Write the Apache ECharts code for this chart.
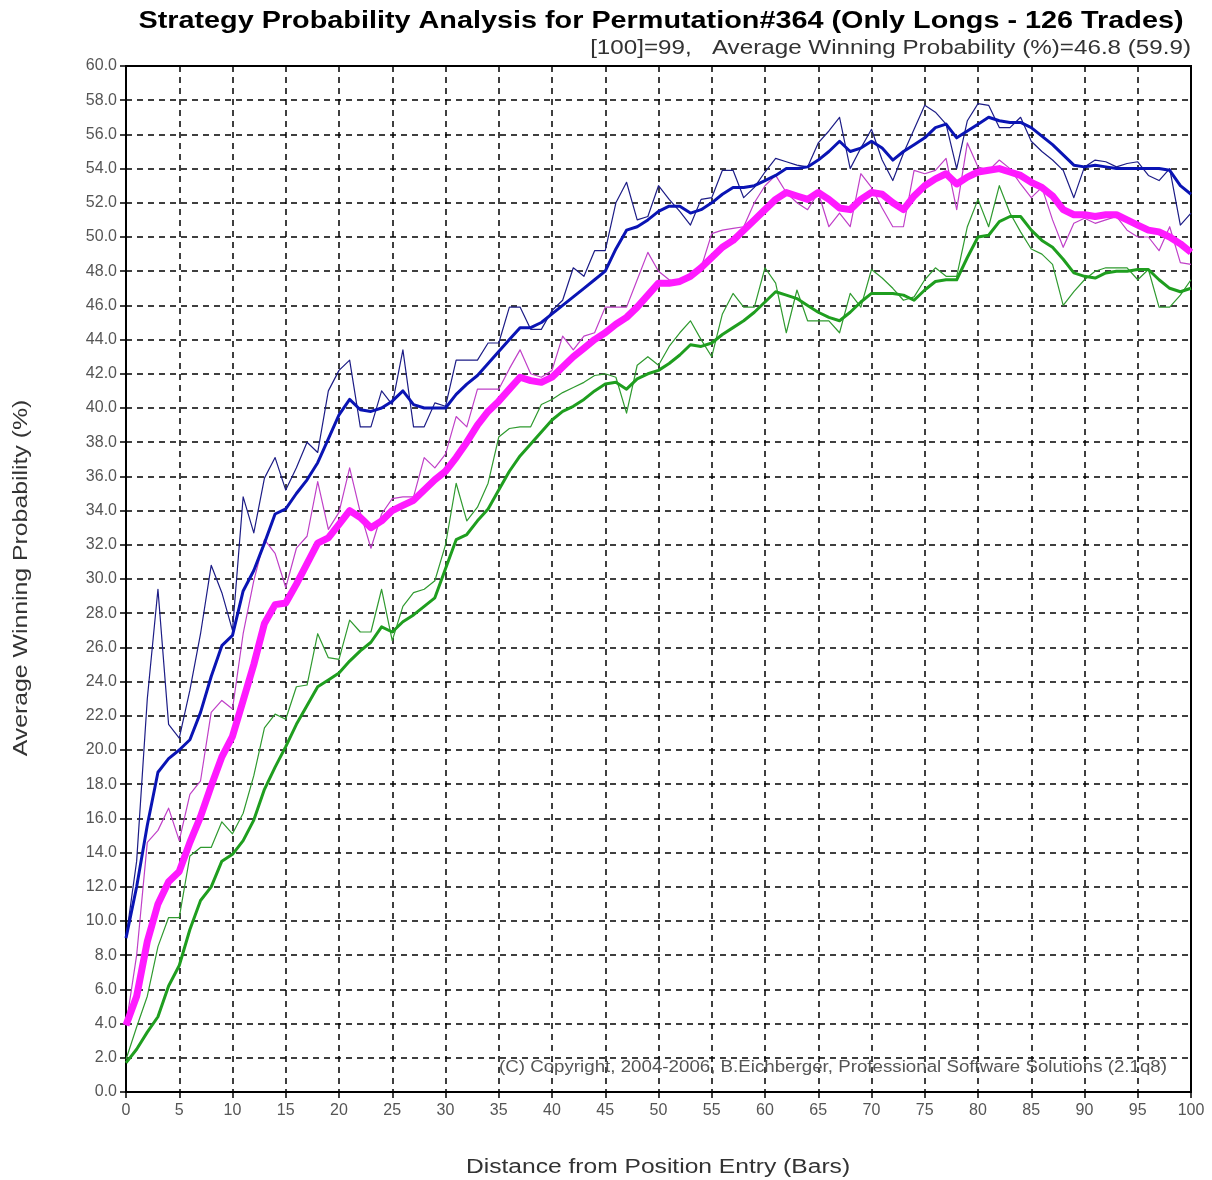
<!DOCTYPE html>
<html>
<head>
<meta charset="utf-8">
<title>Strategy Probability Analysis</title>
<script src="https://cdn.jsdelivr.net/npm/echarts@6/dist/echarts.min.js"></script>
<style>
  html, body { margin: 0; padding: 0; background: #fff; }
  #chart { width: 1212px; height: 1180px; }
</style>
</head>
<body>
<div id="chart"></div>
<script>
// distance from entry, 0..100 bars
const bars = Array.from({ length: 101 }, (_, i) => i);

// upper band (blue)
const blueThin = [
  9.0, 13.5, 23.0, 29.4, 21.5, 20.7, 23.5, 26.8, 30.8, 29.2,
  27.0, 34.8, 32.7, 35.9, 37.1, 35.2, 36.5, 38.0, 37.4, 41.0,
  42.2, 42.8, 38.9, 38.9, 41.0, 40.2, 43.4, 38.9, 38.9, 40.3,
  40.1, 42.8, 42.8, 42.8, 43.8, 43.8, 45.9, 45.9, 44.6, 44.6,
  45.7, 46.3, 48.2, 47.7, 49.2, 49.2, 52.0, 53.2, 51.0, 51.2,
  53.0, 52.2, 51.5, 50.7, 52.2, 52.3, 53.9, 53.9, 52.3, 52.9,
  53.8, 54.6, 54.4, 54.2, 54.1, 55.5, 56.2, 57.0, 54.0, 55.2,
  56.3, 54.5, 53.3, 54.9, 56.3, 57.7, 57.3, 56.6, 54.0, 56.8,
  57.8, 57.7, 56.4, 56.4, 57.0, 55.6, 55.0, 54.5, 53.9, 52.3,
  54.1, 54.5, 54.4, 54.1, 54.3, 54.4, 53.6, 53.3, 54.0, 50.7,
  51.4
];
const blueThick = [
  9.0, 12.0, 15.6, 18.7, 19.5, 20.0, 20.6, 22.2, 24.3, 26.1,
  26.7, 29.3, 30.5, 32.1, 33.8, 34.1, 35.0, 35.8, 36.8, 38.2,
  39.6, 40.5, 39.9, 39.8, 40.0, 40.4, 41.0, 40.2, 40.0, 40.0,
  40.0, 40.8, 41.4, 41.9, 42.6, 43.3, 44.0, 44.7, 44.7, 45.0,
  45.5, 46.0, 46.5, 47.0, 47.5, 48.0, 49.3, 50.4, 50.6, 51.0,
  51.5, 51.8, 51.8, 51.4, 51.6, 52.0, 52.5, 52.9, 52.9, 53.0,
  53.3, 53.6, 54.0, 54.0, 54.1, 54.5, 55.0, 55.6, 55.0, 55.2,
  55.6, 55.2, 54.5, 55.0, 55.4, 55.8, 56.4, 56.6, 55.8, 56.2,
  56.6, 57.0, 56.8, 56.7, 56.7, 56.4, 55.9, 55.4, 54.8, 54.2,
  54.1, 54.2, 54.1, 54.0, 54.0, 54.0, 54.0, 54.0, 53.9, 53.0,
  52.5
];

// average (magenta)
const magentaThin = [
  3.9, 8.0, 14.6, 15.3, 16.6, 14.7, 17.4, 18.2, 22.2, 22.9,
  22.4, 26.8, 29.9, 32.3, 31.5, 29.5, 31.8, 32.5, 35.7, 32.9,
  33.9, 36.5, 33.9, 31.8, 33.8, 34.7, 34.8, 34.8, 37.1, 36.5,
  37.3, 39.5, 38.9, 41.1, 41.1, 41.1, 42.3, 43.4, 42.0, 41.8,
  42.2, 44.2, 43.4, 44.2, 44.4, 45.9, 45.9, 45.9, 47.5, 49.1,
  48.0, 47.5, 47.3, 47.8, 48.2, 50.2, 50.4, 50.5, 50.6, 52.0,
  53.0, 53.6, 52.6, 52.0, 51.6, 52.6, 50.6, 51.4, 50.6, 53.7,
  52.9, 51.7, 50.6, 50.6, 53.9, 53.7, 53.9, 54.6, 51.6, 55.5,
  54.1, 53.9, 54.5, 54.0, 53.1, 52.3, 52.9, 51.0, 49.4, 50.8,
  51.1, 50.8, 51.0, 51.2, 50.4, 50.0, 50.0, 49.2, 50.6, 48.5,
  48.4
];
const magentaThick = [
  3.9, 5.6, 8.8, 11.0, 12.3, 12.9, 14.6, 16.1, 17.9, 19.6,
  20.8, 22.9, 25.0, 27.4, 28.5, 28.6, 29.7, 30.9, 32.1, 32.4,
  33.2, 34.0, 33.6, 33.0, 33.4, 34.0, 34.3, 34.6, 35.2, 35.8,
  36.3, 37.1, 38.0, 39.0, 39.8, 40.4, 41.1, 41.8, 41.6, 41.5,
  41.8, 42.4, 43.0, 43.5, 44.0, 44.4, 44.9, 45.3, 45.9, 46.6,
  47.3, 47.3, 47.4, 47.7, 48.2, 48.8, 49.4, 49.8, 50.4, 51.0,
  51.6, 52.2, 52.6, 52.4, 52.2, 52.6, 52.2, 51.7, 51.6, 52.2,
  52.6, 52.5, 52.0, 51.6, 52.4, 53.0, 53.4, 53.7, 53.1, 53.5,
  53.8, 53.9, 54.0, 53.8, 53.6, 53.2, 52.9, 52.4, 51.6, 51.3,
  51.3, 51.2, 51.3, 51.3, 51.0, 50.7, 50.4, 50.3, 50.0, 49.6,
  49.1
];

// lower band (green)
const greenThin = [
  1.9, 3.8, 5.6, 8.5, 10.2, 10.2, 13.8, 14.3, 14.3, 15.8,
  15.1, 16.3, 18.5, 21.3, 22.1, 21.8, 23.7, 23.8, 26.8, 25.4,
  25.3, 27.6, 26.9, 26.9, 29.4, 26.4, 28.4, 29.2, 29.4, 29.9,
  32.0, 35.6, 33.4, 34.2, 35.6, 38.3, 38.8, 38.9, 38.9, 40.2,
  40.5, 40.9, 41.2, 41.5, 41.9, 42.0, 41.8, 39.7, 42.5, 43.0,
  42.5, 43.6, 44.4, 45.1, 44.0, 43.0, 45.5, 46.7, 45.9, 45.9,
  48.2, 47.3, 44.4, 46.9, 45.1, 45.1, 45.1, 44.4, 46.7, 45.9,
  48.1, 47.6, 47.0, 46.3, 46.5, 47.5, 48.2, 47.7, 47.7, 50.6,
  52.2, 50.6, 53.0, 51.4, 50.3, 49.3, 49.0, 48.4, 46.0, 46.8,
  47.5, 48.0, 48.2, 48.2, 48.2, 47.5, 48.1, 45.9, 45.9, 46.6,
  47.5
];
const greenThick = [
  1.7, 2.5, 3.5, 4.4, 6.2, 7.4, 9.5, 11.2, 12.0, 13.5,
  13.9, 14.7, 15.9, 17.7, 19.0, 20.2, 21.5, 22.6, 23.7, 24.1,
  24.5, 25.2, 25.8, 26.3, 27.2, 26.9, 27.5, 27.9, 28.4, 28.9,
  30.6, 32.3, 32.6, 33.4, 34.1, 35.2, 36.3, 37.2, 37.9, 38.6,
  39.3, 39.8, 40.1, 40.5, 41.0, 41.4, 41.5, 41.1, 41.7, 42.0,
  42.2, 42.6, 43.1, 43.7, 43.6, 43.8, 44.3, 44.7, 45.1, 45.6,
  46.2, 46.8, 46.6, 46.4, 46.0, 45.6, 45.3, 45.1, 45.6, 46.2,
  46.7, 46.7, 46.7, 46.6, 46.3, 46.9, 47.4, 47.5, 47.5, 48.8,
  50.0, 50.1, 50.9, 51.2, 51.2, 50.4, 49.8, 49.4, 48.7, 47.9,
  47.7, 47.6, 47.9, 48.0, 48.0, 48.1, 48.1, 47.5, 47.0, 46.8,
  47.0
];

const titleText = "Strategy Probability Analysis for Permutation#364 (Only Longs - 126 Trades)";
const subText = "[100]=99,   Average Winning Probability (%)=46.8 (59.9)";
const xName = "Distance from Position Entry (Bars)";
const yName = "Average Winning Probability (%)";
const copyText = "(C) Copyright, 2004-2006, B.Eichberger, Professional Software Solutions (2.1q8)";

const font = "'Liberation Sans', Arial, sans-serif";

const pairs = (vals) => vals.map((v, i) => [bars[i], v]);

const line = (name, vals, color, width, z) => ({
  name: name,
  type: "line",
  data: pairs(vals),
  symbol: "none",
  z: z,
  lineStyle: { color: color, width: width, join: "round" },
});

// the original text is drawn wider than Arial, so stretch it a bit
const label = (text, x, y, size, opts) => Object.assign({
  type: "text",
  x: x,
  y: y,
  z: 100,
  style: {
    text: text,
    font: size + "px " + font,
    fill: "#333",
    textAlign: "center",
    textVerticalAlign: "middle",
  },
}, opts);

const chart = echarts.init(document.getElementById("chart"), null, { renderer: "canvas" });

chart.setOption({
  backgroundColor: "#fff",
  animation: false,
  grid: {
    left: 126,
    right: 21,
    top: 66,
    bottom: 88,
    show: true,
    borderColor: "#000",
    borderWidth: 2,
  },
  xAxis: {
    type: "value",
    min: 0,
    max: 100,
    interval: 5,
    axisLine: { show: true, lineStyle: { color: "#000", width: 2 } },
    axisTick: { show: true, length: 6, lineStyle: { color: "#000", width: 1.5 } },
    axisLabel: { fontFamily: font, fontSize: 16, color: "#555", margin: 11 },
    splitLine: {
      show: true,
      lineStyle: { color: "#000", width: 1.5, type: [6, 5] },
    },
  },
  yAxis: {
    type: "value",
    min: 0,
    max: 60,
    interval: 2,
    axisLine: { show: true, lineStyle: { color: "#000", width: 2 } },
    axisTick: { show: true, length: 6, lineStyle: { color: "#000", width: 1.5 } },
    axisLabel: {
      fontFamily: font,
      fontSize: 16,
      color: "#555",
      margin: 9,
      formatter: (v) => v.toFixed(1),
    },
    splitLine: {
      show: true,
      lineStyle: { color: "#000", width: 1.5, type: [6, 5] },
    },
  },
  graphic: [
    label(titleText, 661, 21, 24, {
      scaleX: 1.2,
      style: { text: titleText, font: "bold 24px " + font, fill: "#000", textAlign: "center", textVerticalAlign: "middle" },
    }),
    label(subText, 1191, 48, 20, {
      scaleX: 1.21,
      style: { text: subText, font: "20px " + font, fill: "#333", textAlign: "right", textVerticalAlign: "middle" },
    }),
    label(xName, 658, 1167, 20, { scaleX: 1.23 }),
    label(yName, 21, 578, 20, { scaleX: 1.24, rotation: Math.PI / 2 }),
    label(copyText, 1167, 1068, 16, {
      scaleX: 1.17,
      style: { text: copyText, font: "16px " + font, fill: "#555", textAlign: "right", textVerticalAlign: "middle" },
    })
  ],
  series: [
    line("Upper", blueThin, "#1c1c86", 1.2, 2),
    line("Average", magentaThin, "#c040c8", 1.2, 2),
    line("Lower", greenThin, "#2f9a2f", 1.2, 2),
    line("Lower avg", greenThick, "#1f9e1f", 3, 3),
    line("Upper avg", blueThick, "#0a14b4", 3, 3),
    line("Average avg", magentaThick, "#ff1aff", 7, 4)
  ],
});
</script>
</body>
</html>
